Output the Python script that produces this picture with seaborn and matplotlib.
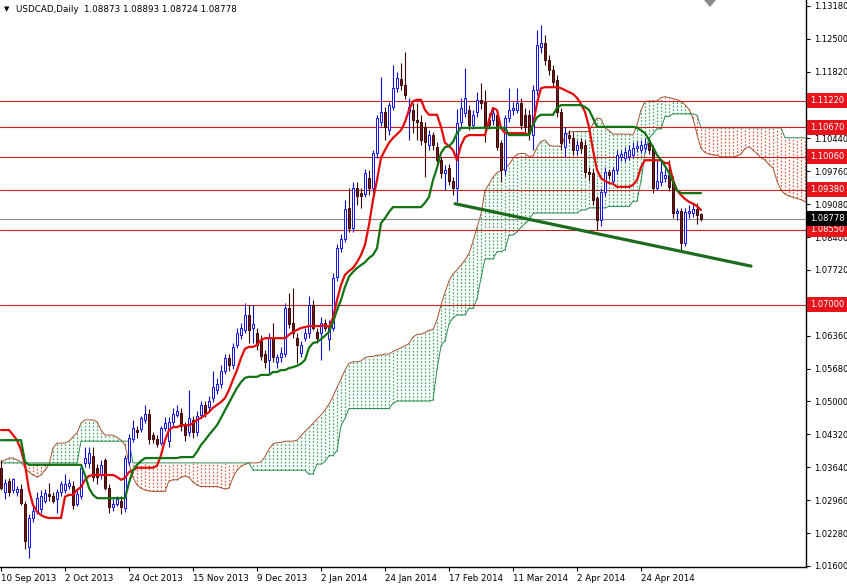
import numpy as np
import pandas as pd
import matplotlib
matplotlib.use("Agg")
import matplotlib.pyplot as plt
import matplotlib.transforms as mtransforms
from matplotlib.patches import Polygon
import seaborn as sns

# ---------------- data ----------------
date_labels = ['10 Sep 2013', '2 Oct 2013', '24 Oct 2013', '15 Nov 2013', '9 Dec 2013',
               '2 Jan 2014', '24 Jan 2014', '17 Feb 2014', '11 Mar 2014', '2 Apr 2014',
               '24 Apr 2014']
date_label_bars = [0, 16, 32, 48, 64, 80, 96, 112, 128, 144, 160]

open_ = [1.0363,1.0312,1.0336,1.0316,1.0312,1.0320,1.0289,1.0200,1.0260,1.0274,
         1.0278,1.0295,1.0309,1.0305,1.0299,1.0312,1.0316,1.0326,1.0326,1.0289,
         1.0305,1.0372,1.0372,1.0388,1.0363,1.0351,1.0378,1.0322,1.0281,1.0289,
         1.0295,1.0279,1.0374,1.0423,1.0442,1.0444,1.0461,1.0475,1.0430,1.0423,
         1.0415,1.0446,1.0419,1.0457,1.0473,1.0477,1.0450,1.0436,1.0461,1.0436,
         1.0473,1.0492,1.0488,1.0508,1.0523,1.0537,1.0564,1.0589,1.0575,1.0616,
         1.0637,1.0647,1.0678,1.0653,1.0641,1.0626,1.0599,1.0585,1.0632,1.0581,
         1.0591,1.0599,1.0694,1.0663,1.0632,1.0601,1.0632,1.0641,1.0699,1.0643,
         1.0641,1.0663,1.0630,1.0651,1.0757,1.0817,1.0837,1.0901,1.0858,1.0941,
         1.0932,1.0930,1.0962,1.0941,1.1013,1.1078,1.1098,1.1061,1.1109,1.1148,
         1.1166,1.1154,1.1098,1.1102,1.1082,1.1078,1.1067,1.1030,1.1051,1.1026,
         1.0999,1.0972,1.0982,1.0957,1.0941,1.1078,1.1096,1.1102,1.1071,1.1098,
         1.1123,1.1119,1.1082,1.1082,1.1092,1.1034,1.0978,1.1086,1.1102,1.1102,
         1.1117,1.1092,1.1092,1.1051,1.1144,1.1233,1.1241,1.1206,1.1185,1.1164,
         1.1098,1.1026,1.1051,1.1046,1.1020,1.1036,1.1030,1.0974,1.0972,1.0920,
         1.0875,1.0933,1.0974,1.0957,1.0978,1.1005,1.1003,1.1007,1.1009,1.1024,
         1.1020,1.1024,1.1034,1.1024,1.0941,1.0953,1.0962,1.0968,1.0957,1.0889,
         1.0895,1.0827,1.0889,1.0889,1.0899,1.08873]
high = [1.0378,1.0340,1.0342,1.0342,1.0326,1.0330,1.0295,1.0268,1.0285,1.0312,
        1.0316,1.0320,1.0332,1.0312,1.0320,1.0336,1.0351,1.0340,1.0336,1.0316,
        1.0370,1.0405,1.0405,1.0405,1.0370,1.0378,1.0384,1.0330,1.0299,1.0305,
        1.0305,1.0390,1.0432,1.0461,1.0450,1.0471,1.0492,1.0484,1.0436,1.0430,
        1.0450,1.0467,1.0467,1.0486,1.0492,1.0486,1.0457,1.0523,1.0471,1.0481,
        1.0502,1.0502,1.0512,1.0564,1.0548,1.0575,1.0599,1.0599,1.0620,1.0651,
        1.0662,1.0703,1.0699,1.0699,1.0651,1.0637,1.0606,1.0641,1.0663,1.0599,
        1.0612,1.0703,1.0724,1.0734,1.0641,1.0626,1.0653,1.0719,1.0709,1.0651,
        1.0674,1.0670,1.0668,1.0765,1.0825,1.0846,1.0916,1.0941,1.0953,1.0953,
        1.0941,1.0980,1.0978,1.1020,1.1092,1.1171,1.1110,1.1119,1.1195,1.1181,
        1.1200,1.1222,1.1127,1.1117,1.1117,1.1092,1.1078,1.1061,1.1057,1.1036,
        1.1005,1.0989,1.0991,1.0964,1.1105,1.1127,1.1189,1.1113,1.1102,1.1140,
        1.1158,1.1144,1.1096,1.1107,1.1102,1.1040,1.1092,1.1148,1.1119,1.1148,
        1.1127,1.1107,1.1102,1.1154,1.1268,1.1278,1.1258,1.1216,1.1195,1.1175,
        1.1107,1.1067,1.1061,1.1057,1.1040,1.1046,1.1040,1.0984,1.0980,1.0926,
        1.0941,1.0984,1.0980,1.0986,1.1020,1.1020,1.1026,1.1030,1.1036,1.1038,
        1.1040,1.1044,1.1044,1.1030,1.0999,1.0999,1.0980,1.0999,1.0966,1.0901,
        1.0901,1.0901,1.0906,1.0912,1.0910,1.08893]
low = [1.0316,1.0299,1.0305,1.0310,1.0305,1.0285,1.0195,1.0177,1.0250,1.0268,
       1.0270,1.0291,1.0295,1.0290,1.0270,1.0305,1.0310,1.0320,1.0278,1.0283,
       1.0299,1.0365,1.0363,1.0336,1.0330,1.0340,1.0316,1.0270,1.0274,1.0283,
       1.0268,1.0272,1.0368,1.0417,1.0425,1.0436,1.0455,1.0413,1.0415,1.0405,
       1.0409,1.0440,1.0405,1.0450,1.0467,1.0440,1.0419,1.0428,1.0425,1.0428,
       1.0465,1.0467,1.0480,1.0498,1.0515,1.0527,1.0556,1.0564,1.0568,1.0610,
       1.0630,1.0641,1.0620,1.0620,1.0606,1.0585,1.0570,1.0558,1.0581,1.0570,
       1.0581,1.0591,1.0651,1.0632,1.0579,1.0591,1.0626,1.0632,1.0647,1.0622,
       1.0585,1.0645,1.0606,1.0645,1.0750,1.0810,1.0830,1.0850,1.0850,1.0906,
       1.0901,1.0922,1.0928,1.0932,1.1003,1.1070,1.1040,1.1051,1.1102,1.1140,
       1.1144,1.1125,1.1040,1.1055,1.1040,1.1030,1.0964,1.1020,1.1020,1.0989,
       1.0962,1.0937,1.0947,1.0928,1.0912,1.1070,1.1088,1.1061,1.1063,1.1088,
       1.1105,1.1036,1.1063,1.1071,1.1020,1.0953,1.0968,1.1078,1.1092,1.1096,
       1.1063,1.1057,1.1040,1.1020,1.1133,1.1220,1.1195,1.1175,1.1150,1.1088,
       1.1020,1.1005,1.1034,1.1009,1.1009,1.1013,1.0964,1.0957,1.0906,1.0854,
       1.0864,1.0926,1.0960,1.0951,1.0970,1.0997,1.0995,1.0999,1.1003,1.1017,
       1.1013,1.1017,1.1011,1.0932,1.0937,1.0945,1.0955,1.0935,1.0879,1.0875,
       1.0813,1.0821,1.0879,1.0881,1.0868,1.08724]
close = [1.0322,1.0332,1.0312,1.0340,1.0320,1.0291,1.0212,1.0260,1.0274,1.0301,
         1.0305,1.0310,1.0305,1.0295,1.0312,1.0330,1.0330,1.0332,1.0285,1.0309,
         1.0363,1.0384,1.0394,1.0343,1.0343,1.0368,1.0322,1.0281,1.0289,1.0299,
         1.0281,1.0384,1.0425,1.0446,1.0436,1.0465,1.0475,1.0423,1.0423,1.0413,
         1.0446,1.0455,1.0457,1.0475,1.0481,1.0450,1.0430,1.0465,1.0436,1.0471,
         1.0492,1.0477,1.0502,1.0529,1.0537,1.0564,1.0589,1.0575,1.0612,1.0641,
         1.0653,1.0678,1.0647,1.0661,1.0616,1.0595,1.0581,1.0632,1.0591,1.0591,
         1.0601,1.0694,1.0661,1.0641,1.0616,1.0616,1.0641,1.0699,1.0653,1.0632,
         1.0663,1.0653,1.0657,1.0755,1.0817,1.0837,1.0899,1.0858,1.0941,1.0926,
         1.0926,1.0972,1.0941,1.1013,1.1086,1.1098,1.1067,1.1113,1.1148,1.1169,
         1.1154,1.1133,1.1109,1.1082,1.1078,1.1040,1.1036,1.1051,1.1030,1.0999,
         1.0972,1.0978,1.0957,1.0941,1.1076,1.1107,1.1127,1.1071,1.1092,1.1123,
         1.1117,1.1067,1.1071,1.1096,1.1026,1.0978,1.1086,1.1102,1.1107,1.1117,
         1.1071,1.1067,1.1055,1.1144,1.1237,1.1241,1.1206,1.1185,1.1160,1.1098,
         1.1034,1.1055,1.1044,1.1020,1.1030,1.1024,1.0974,1.0970,1.0916,1.0875,
         1.0933,1.0974,1.0968,1.0978,1.1009,1.1011,1.1015,1.1020,1.1024,1.1028,
         1.1030,1.1032,1.1020,1.0941,1.0957,1.0974,1.0968,1.0943,1.0889,1.0895,
         1.0827,1.0891,1.0895,1.0899,1.0885,1.08778]

tenkan = [1.0441,1.0441,1.0441,1.0431,1.0420,1.0400,1.0369,1.0317,1.0286,1.0272,
          1.0265,1.0261,1.0259,1.0259,1.0259,1.0259,1.0303,1.0307,1.0307,1.0317,
          1.0323,1.0338,1.0346,1.0348,1.0348,1.0348,1.0348,1.0348,1.0348,1.0344,
          1.0338,1.0342,1.0354,1.0358,1.0363,1.0363,1.0363,1.0363,1.0363,1.0367,
          1.0389,1.0420,1.0441,1.0447,1.0447,1.0451,1.0451,1.0451,1.0455,1.0462,
          1.0466,1.0472,1.0478,1.0487,1.0493,1.0499,1.0507,1.0524,1.0545,1.0565,
          1.0590,1.0609,1.0613,1.0613,1.0617,1.0627,1.0631,1.0631,1.0631,1.0631,
          1.0631,1.0631,1.0638,1.0644,1.0648,1.0652,1.0654,1.0656,1.0656,1.0656,
          1.0656,1.0658,1.0654,1.0673,1.0710,1.0741,1.0762,1.0770,1.0776,1.0788,
          1.0803,1.0824,1.0865,1.0917,1.0958,1.1004,1.1020,1.1035,1.1045,1.1053,
          1.1061,1.1078,1.1103,1.1121,1.1124,1.1124,1.1103,1.1093,1.1093,1.1093,
          1.1068,1.1035,1.1028,1.1020,1.0999,1.1030,1.1047,1.1051,1.1051,1.1051,
          1.1051,1.1051,1.1082,1.1107,1.1103,1.1066,1.1055,1.1055,1.1055,1.1055,
          1.1055,1.1055,1.1051,1.1072,1.1117,1.1148,1.1150,1.1150,1.1150,1.1150,
          1.1148,1.1144,1.1140,1.1136,1.1128,1.1115,1.1099,1.1068,1.1020,1.0979,
          1.0962,1.0956,1.0952,1.0950,1.0944,1.0944,1.0944,1.0944,1.0948,1.0958,
          1.0985,1.0999,1.0999,1.0999,1.0999,1.0999,1.0993,1.0993,1.0958,1.0937,
          1.0927,1.0919,1.0913,1.0909,1.0904,1.0896]
kijun = [1.0420,1.0420,1.0420,1.0420,1.0420,1.0420,1.0375,1.0369,1.0369,1.0369,
         1.0369,1.0369,1.0369,1.0369,1.0369,1.0369,1.0369,1.0369,1.0369,1.0369,
         1.0369,1.0348,1.0321,1.0307,1.0300,1.0300,1.0300,1.0300,1.0300,1.0300,
         1.0300,1.0300,1.0332,1.0358,1.0369,1.0377,1.0383,1.0383,1.0383,1.0383,
         1.0383,1.0383,1.0383,1.0383,1.0383,1.0385,1.0385,1.0385,1.0385,1.0396,
         1.0410,1.0420,1.0431,1.0441,1.0451,1.0466,1.0482,1.0497,1.0513,1.0528,
         1.0540,1.0549,1.0551,1.0551,1.0551,1.0555,1.0555,1.0555,1.0561,1.0561,
         1.0565,1.0565,1.0569,1.0571,1.0574,1.0578,1.0586,1.0611,1.0621,1.0623,
         1.0629,1.0636,1.0644,1.0664,1.0689,1.0710,1.0737,1.0758,1.0768,1.0776,
         1.0782,1.0788,1.0797,1.0803,1.0817,1.0869,1.0879,1.0892,1.0902,1.0902,
         1.0902,1.0902,1.0902,1.0902,1.0902,1.0902,1.0911,1.0923,1.0958,1.0983,
         1.1014,1.1026,1.1028,1.1037,1.1055,1.1066,1.1066,1.1066,1.1066,1.1066,
         1.1066,1.1066,1.1066,1.1066,1.1066,1.1066,1.1066,1.1051,1.1051,1.1051,
         1.1051,1.1051,1.1051,1.1072,1.1088,1.1093,1.1093,1.1093,1.1093,1.1107,
         1.1113,1.1113,1.1113,1.1113,1.1113,1.1113,1.1109,1.1103,1.1086,1.1068,
         1.1068,1.1068,1.1068,1.1068,1.1068,1.1068,1.1068,1.1068,1.1068,1.1066,
         1.1061,1.1055,1.1041,1.1026,1.1010,1.0999,1.0987,1.0973,1.0954,1.0937,
         1.0931,1.0931,1.0931,1.0931,1.0931,1.0931]

# Senkou spans before the visible history reaches them
span_a_early = [1.0375,1.0379,1.0383,1.0383,1.0379,1.0375,1.0363,1.0354,1.0348,1.0344,
                1.0348,1.0358,1.0369,1.0404,1.0414,1.0414,1.0414,1.0418,1.0427,1.0435,
                1.0455,1.0462,1.0462,1.0462,1.0458,1.0441]
span_b_early_levels = [1.0373, 1.0418, 1.0373, 1.0358]
span_b_early_runs = [20, 13, 30, 14]

level_values = [1.1122, 1.1067, 1.1006, 1.0938, 1.0855, 1.0700]
level_labels = ['1.11220', '1.10670', '1.10060', '1.09380', '1.08550', '1.07000']
last_price = 1.08778
last_label = '1.08778'
trend_bars = [113.5, 187.5]
trend_prices = [1.0909, 1.0780]
ytick_values = [1.13180, 1.12500, 1.11820, 1.11140, 1.10440, 1.09760, 1.09080, 1.08400,
                1.07720, 1.07040, 1.06360, 1.05680, 1.05000, 1.04320, 1.03640, 1.02960,
                1.02280, 1.01600]
title_text = 'USDCAD,Daily  1.08873 1.08893 1.08724 1.08778'

# ---------------- derived series ----------------
n = len(close)
assert len(open_) == n and len(high) == n and len(low) == n
assert len(tenkan) == n and len(kijun) == n
bars = np.arange(n)
o = np.array(open_); h = np.array(high); l = np.array(low); c = np.array(close)
tk = np.array(tenkan); kj = np.array(kijun)

span_a = np.concatenate([span_a_early, (tk + kj) / 2.0])
hh = pd.Series(h).rolling(52).max()
ll = pd.Series(l).rolling(52).min()
mid52 = ((hh + ll) / 2.0).values[51:]
span_b = np.concatenate([np.repeat(span_b_early_levels, span_b_early_runs), mid52])
cloud_bars = np.arange(len(span_a))

# ---------------- figure ----------------
sns.set_theme(style="white")
plt.rcParams['font.family'] = ['DejaVu Sans']

W, H = 847, 587
fig = plt.figure(figsize=(W / 100, H / 100), dpi=100)
ax = fig.add_axes([0, 1 - 567 / H, 806 / W, 567 / H])
ax.set_facecolor('white')

# cloud (vertical dotted hatching per bar)
lo = np.minimum(span_a, span_b)
hi = np.maximum(span_a, span_b)
up = span_a >= span_b
ax.vlines(cloud_bars[up], lo[up], hi[up], colors='#1f9e4a',
          linestyles=(0, (1.4, 1.4)), linewidth=0.9, alpha=0.85, zorder=1)
ax.vlines(cloud_bars[~up], lo[~up], hi[~up], colors='#e0442a',
          linestyles=(0, (1.4, 1.4)), linewidth=0.9, alpha=0.85, zorder=1)
sns.lineplot(x=cloud_bars, y=span_a, ax=ax, color='#a0522d', linewidth=0.7, zorder=1.5, legend=False)
sns.lineplot(x=cloud_bars, y=span_b, ax=ax, color='#2e8b57', linewidth=0.7, zorder=1.5, legend=False)

# horizontal levels
for v in level_values:
    ax.axhline(v, color='#c81e1e', linewidth=0.8, zorder=2)
ax.axhline(last_price, color='#8c8c8c', linewidth=0.8, zorder=2)

# candles
bull = c >= o
ax.vlines(bars[bull], l[bull], h[bull], color='#1010d0', linewidth=0.8, zorder=3)
ax.vlines(bars[~bull], l[~bull], h[~bull], color='#3a0505', linewidth=0.8, zorder=3)
ax.bar(bars[bull], np.maximum(c - o, 0.00004)[bull], bottom=o[bull], width=0.7,
       facecolor='white', edgecolor='#1010e0', linewidth=0.7, zorder=3.2)
ax.bar(bars[~bull], np.maximum(o - c, 0.00004)[~bull], bottom=c[~bull], width=0.7,
       facecolor='#7a1c1c', edgecolor='#3a0505', linewidth=0.7, zorder=3.2)

# Tenkan / Kijun
sns.lineplot(x=bars, y=tk, ax=ax, color='#e30a0a', linewidth=1.6, zorder=4, legend=False)
sns.lineplot(x=bars, y=kj, ax=ax, color='#127312', linewidth=1.6, zorder=4, legend=False)

# trend line
sns.lineplot(x=trend_bars, y=trend_prices, ax=ax, color='#1d6b1d', linewidth=2.3, zorder=5, legend=False)

# axes
ax.set_xlim(-0.25, 201.25)
ax.set_ylim(1.01577, 1.13304)
ax.set_xlabel(''); ax.set_ylabel('')
for s in ['top', 'left']:
    ax.spines[s].set_visible(False)
for s in ['right', 'bottom']:
    ax.spines[s].set_visible(True)
    ax.spines[s].set_color('black')
    ax.spines[s].set_linewidth(1.0)
ax.yaxis.tick_right()
ax.set_yticks(ytick_values)
ax.set_yticklabels([f'{v:.5f}' for v in ytick_values])
ax.set_xticks(date_label_bars)
ax.set_xticklabels(date_labels, ha='left')
ax.tick_params(axis='y', direction='out', length=3, width=0.8, pad=2.5, labelsize=6.0,
               colors='black', right=True, left=False)
ax.tick_params(axis='x', direction='out', length=3, width=0.8, pad=2, labelsize=6.3,
               colors='black', bottom=True)
ax.grid(False)

# right-side price boxes
trans = mtransforms.blended_transform_factory(fig.transFigure, ax.transData)
for v, s in zip(level_values, level_labels):
    ax.text(810 / W, v, s, transform=trans, fontsize=6.0, color='white', va='center', ha='left',
            bbox=dict(boxstyle='square,pad=0.35', fc='#e8141c', ec='none'), zorder=10, clip_on=False)
ax.text(810 / W, last_price, last_label, transform=trans, fontsize=6.0, color='white', va='center',
        ha='left', bbox=dict(boxstyle='square,pad=0.35', fc='black', ec='none'), zorder=11, clip_on=False)

# title and markers
fig.text(4 / W, 1 - 9 / H, '\u25BC', fontsize=5, color='black', va='center', ha='left')
fig.text(16 / W, 1 - 9 / H, title_text, fontsize=6.3, color='black', va='center', ha='left')
shift_marker = Polygon([[704 / W, 1.0], [716 / W, 1.0], [710 / W, 1 - 7 / H]], closed=True,
                       transform=fig.transFigure, facecolor='#8a8a8a', edgecolor='none')
fig.add_artist(shift_marker)

fig.savefig('out.png', dpi=100, facecolor='white')
